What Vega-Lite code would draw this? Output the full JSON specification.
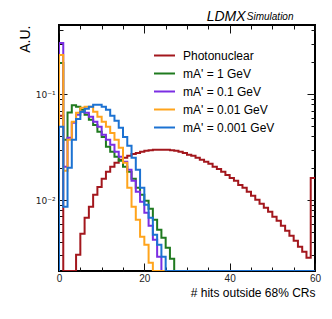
{
 "$schema": "https://vega.github.io/schema/vega-lite/v6.json",
 "width": 256,
 "height": 246,
 "autosize": {"type": "none"},
 "padding": {"left": 59, "top": 25, "right": 17, "bottom": 48},
 "background": "white",
 "config": {
  "font": "Liberation Sans",
  "view": {"stroke": "black", "strokeWidth": 2},
  "axis": {"domain": false, "grid": false, "tickColor": "#111", "tickWidth": 1, "labelColor": "#222", "labelFontSize": 10, "titleColor": "black", "titleFontWeight": "normal"}
 },
 "title": {"text": "LDMX", "anchor": "end", "fontStyle": "italic", "fontWeight": "normal", "fontSize": 14, "color": "black", "dx": -75, "offset": -12},
 "data": {"values": [
  {"sample":"Photonuclear","hits":0,"frac":0.0001,"k":0},
  {"sample":"Photonuclear","hits":0,"frac":0.0624,"k":1},
  {"sample":"Photonuclear","hits":1,"frac":0.0001,"k":2},
  {"sample":"Photonuclear","hits":4,"frac":0.00305,"k":3},
  {"sample":"Photonuclear","hits":5,"frac":0.00481,"k":4},
  {"sample":"Photonuclear","hits":6,"frac":0.00681,"k":5},
  {"sample":"Photonuclear","hits":7,"frac":0.00865,"k":6},
  {"sample":"Photonuclear","hits":8,"frac":0.0112,"k":7},
  {"sample":"Photonuclear","hits":9,"frac":0.0133,"k":8},
  {"sample":"Photonuclear","hits":10,"frac":0.0159,"k":9},
  {"sample":"Photonuclear","hits":11,"frac":0.0185,"k":10},
  {"sample":"Photonuclear","hits":12,"frac":0.0206,"k":11},
  {"sample":"Photonuclear","hits":13,"frac":0.0225,"k":12},
  {"sample":"Photonuclear","hits":14,"frac":0.0240,"k":13},
  {"sample":"Photonuclear","hits":15,"frac":0.0251,"k":14},
  {"sample":"Photonuclear","hits":16,"frac":0.0262,"k":15},
  {"sample":"Photonuclear","hits":17,"frac":0.0273,"k":16},
  {"sample":"Photonuclear","hits":18,"frac":0.0279,"k":17},
  {"sample":"Photonuclear","hits":19,"frac":0.0286,"k":18},
  {"sample":"Photonuclear","hits":20,"frac":0.0292,"k":19},
  {"sample":"Photonuclear","hits":21,"frac":0.0295,"k":20},
  {"sample":"Photonuclear","hits":22,"frac":0.0298,"k":21},
  {"sample":"Photonuclear","hits":23,"frac":0.0298,"k":22},
  {"sample":"Photonuclear","hits":24,"frac":0.0298,"k":23},
  {"sample":"Photonuclear","hits":25,"frac":0.0298,"k":24},
  {"sample":"Photonuclear","hits":26,"frac":0.0295,"k":25},
  {"sample":"Photonuclear","hits":27,"frac":0.0292,"k":26},
  {"sample":"Photonuclear","hits":28,"frac":0.0286,"k":27},
  {"sample":"Photonuclear","hits":29,"frac":0.0279,"k":28},
  {"sample":"Photonuclear","hits":30,"frac":0.0268,"k":29},
  {"sample":"Photonuclear","hits":31,"frac":0.0262,"k":30},
  {"sample":"Photonuclear","hits":32,"frac":0.0251,"k":31},
  {"sample":"Photonuclear","hits":33,"frac":0.0240,"k":32},
  {"sample":"Photonuclear","hits":34,"frac":0.0230,"k":33},
  {"sample":"Photonuclear","hits":35,"frac":0.0220,"k":34},
  {"sample":"Photonuclear","hits":36,"frac":0.0206,"k":35},
  {"sample":"Photonuclear","hits":37,"frac":0.0197,"k":36},
  {"sample":"Photonuclear","hits":38,"frac":0.0185,"k":37},
  {"sample":"Photonuclear","hits":39,"frac":0.0173,"k":38},
  {"sample":"Photonuclear","hits":40,"frac":0.0162,"k":39},
  {"sample":"Photonuclear","hits":41,"frac":0.0152,"k":40},
  {"sample":"Photonuclear","hits":42,"frac":0.0139,"k":41},
  {"sample":"Photonuclear","hits":43,"frac":0.0131,"k":42},
  {"sample":"Photonuclear","hits":44,"frac":0.0120,"k":43},
  {"sample":"Photonuclear","hits":45,"frac":0.0110,"k":44},
  {"sample":"Photonuclear","hits":46,"frac":0.0101,"k":45},
  {"sample":"Photonuclear","hits":47,"frac":0.00923,"k":46},
  {"sample":"Photonuclear","hits":48,"frac":0.00846,"k":47},
  {"sample":"Photonuclear","hits":49,"frac":0.00776,"k":48},
  {"sample":"Photonuclear","hits":50,"frac":0.00696,"k":49},
  {"sample":"Photonuclear","hits":51,"frac":0.00638,"k":50},
  {"sample":"Photonuclear","hits":52,"frac":0.00572,"k":51},
  {"sample":"Photonuclear","hits":53,"frac":0.00513,"k":52},
  {"sample":"Photonuclear","hits":54,"frac":0.00461,"k":53},
  {"sample":"Photonuclear","hits":55,"frac":0.00413,"k":54},
  {"sample":"Photonuclear","hits":56,"frac":0.00363,"k":55},
  {"sample":"Photonuclear","hits":57,"frac":0.00325,"k":56},
  {"sample":"Photonuclear","hits":58,"frac":0.00286,"k":57},
  {"sample":"Photonuclear","hits":59,"frac":0.0162,"k":58},
  {"sample":"Photonuclear","hits":60,"frac":0.0162,"k":59},

  {"sample":"mA' = 1 GeV","hits":0,"frac":0.0001,"k":0},
  {"sample":"mA' = 1 GeV","hits":0,"frac":0.197,"k":1},
  {"sample":"mA' = 1 GeV","hits":1,"frac":0.0371,"k":2},
  {"sample":"mA' = 1 GeV","hits":2,"frac":0.0670,"k":3},
  {"sample":"mA' = 1 GeV","hits":3,"frac":0.0787,"k":4},
  {"sample":"mA' = 1 GeV","hits":4,"frac":0.0759,"k":5},
  {"sample":"mA' = 1 GeV","hits":5,"frac":0.0711,"k":6},
  {"sample":"mA' = 1 GeV","hits":6,"frac":0.0638,"k":7},
  {"sample":"mA' = 1 GeV","hits":7,"frac":0.0572,"k":8},
  {"sample":"mA' = 1 GeV","hits":8,"frac":0.0513,"k":9},
  {"sample":"mA' = 1 GeV","hits":9,"frac":0.0441,"k":10},
  {"sample":"mA' = 1 GeV","hits":10,"frac":0.0395,"k":11},
  {"sample":"mA' = 1 GeV","hits":11,"frac":0.0319,"k":12},
  {"sample":"mA' = 1 GeV","hits":12,"frac":0.0286,"k":13},
  {"sample":"mA' = 1 GeV","hits":13,"frac":0.0256,"k":14},
  {"sample":"mA' = 1 GeV","hits":14,"frac":0.0235,"k":15},
  {"sample":"mA' = 1 GeV","hits":15,"frac":0.0206,"k":16},
  {"sample":"mA' = 1 GeV","hits":16,"frac":0.0185,"k":17},
  {"sample":"mA' = 1 GeV","hits":17,"frac":0.0159,"k":18},
  {"sample":"mA' = 1 GeV","hits":18,"frac":0.0131,"k":19},
  {"sample":"mA' = 1 GeV","hits":19,"frac":0.0112,"k":20},
  {"sample":"mA' = 1 GeV","hits":20,"frac":0.00985,"k":21},
  {"sample":"mA' = 1 GeV","hits":21,"frac":0.00828,"k":22},
  {"sample":"mA' = 1 GeV","hits":22,"frac":0.00652,"k":23},
  {"sample":"mA' = 1 GeV","hits":23,"frac":0.00525,"k":24},
  {"sample":"mA' = 1 GeV","hits":24,"frac":0.00441,"k":25},
  {"sample":"mA' = 1 GeV","hits":25,"frac":0.00355,"k":26},
  {"sample":"mA' = 1 GeV","hits":26,"frac":0.00279,"k":27},
  {"sample":"mA' = 1 GeV","hits":27,"frac":0.0001,"k":28},
  {"sample":"mA' = 1 GeV","hits":60,"frac":0.0001,"k":29},

  {"sample":"mA' = 0.1 GeV","hits":0,"frac":0.0001,"k":0},
  {"sample":"mA' = 0.1 GeV","hits":0,"frac":0.305,"k":1},
  {"sample":"mA' = 0.1 GeV","hits":1,"frac":0.0206,"k":2},
  {"sample":"mA' = 0.1 GeV","hits":2,"frac":0.0387,"k":3},
  {"sample":"mA' = 0.1 GeV","hits":3,"frac":0.0536,"k":4},
  {"sample":"mA' = 0.1 GeV","hits":4,"frac":0.0638,"k":5},
  {"sample":"mA' = 0.1 GeV","hits":5,"frac":0.0681,"k":6},
  {"sample":"mA' = 0.1 GeV","hits":6,"frac":0.0667,"k":7},
  {"sample":"mA' = 0.1 GeV","hits":7,"frac":0.0611,"k":8},
  {"sample":"mA' = 0.1 GeV","hits":8,"frac":0.0548,"k":9},
  {"sample":"mA' = 0.1 GeV","hits":9,"frac":0.0492,"k":10},
  {"sample":"mA' = 0.1 GeV","hits":10,"frac":0.0413,"k":11},
  {"sample":"mA' = 0.1 GeV","hits":11,"frac":0.0371,"k":12},
  {"sample":"mA' = 0.1 GeV","hits":12,"frac":0.0333,"k":13},
  {"sample":"mA' = 0.1 GeV","hits":13,"frac":0.0286,"k":14},
  {"sample":"mA' = 0.1 GeV","hits":14,"frac":0.0256,"k":15},
  {"sample":"mA' = 0.1 GeV","hits":15,"frac":0.0230,"k":16},
  {"sample":"mA' = 0.1 GeV","hits":16,"frac":0.0193,"k":17},
  {"sample":"mA' = 0.1 GeV","hits":17,"frac":0.0152,"k":18},
  {"sample":"mA' = 0.1 GeV","hits":18,"frac":0.0120,"k":19},
  {"sample":"mA' = 0.1 GeV","hits":19,"frac":0.00964,"k":20},
  {"sample":"mA' = 0.1 GeV","hits":20,"frac":0.00759,"k":21},
  {"sample":"mA' = 0.1 GeV","hits":21,"frac":0.00572,"k":22},
  {"sample":"mA' = 0.1 GeV","hits":22,"frac":0.00422,"k":23},
  {"sample":"mA' = 0.1 GeV","hits":23,"frac":0.00292,"k":24},
  {"sample":"mA' = 0.1 GeV","hits":24,"frac":0.0001,"k":25},
  {"sample":"mA' = 0.1 GeV","hits":60,"frac":0.0001,"k":26},

  {"sample":"mA' = 0.01 GeV","hits":0,"frac":0.0001,"k":0},
  {"sample":"mA' = 0.01 GeV","hits":0,"frac":0.235,"k":1},
  {"sample":"mA' = 0.01 GeV","hits":1,"frac":0.0189,"k":2},
  {"sample":"mA' = 0.01 GeV","hits":2,"frac":0.0371,"k":3},
  {"sample":"mA' = 0.01 GeV","hits":3,"frac":0.0548,"k":4},
  {"sample":"mA' = 0.01 GeV","hits":4,"frac":0.0667,"k":5},
  {"sample":"mA' = 0.01 GeV","hits":5,"frac":0.0743,"k":6},
  {"sample":"mA' = 0.01 GeV","hits":6,"frac":0.0759,"k":7},
  {"sample":"mA' = 0.01 GeV","hits":7,"frac":0.0759,"k":8},
  {"sample":"mA' = 0.01 GeV","hits":8,"frac":0.0681,"k":9},
  {"sample":"mA' = 0.01 GeV","hits":9,"frac":0.0611,"k":10},
  {"sample":"mA' = 0.01 GeV","hits":10,"frac":0.0548,"k":11},
  {"sample":"mA' = 0.01 GeV","hits":11,"frac":0.0492,"k":12},
  {"sample":"mA' = 0.01 GeV","hits":12,"frac":0.0431,"k":13},
  {"sample":"mA' = 0.01 GeV","hits":13,"frac":0.0371,"k":14},
  {"sample":"mA' = 0.01 GeV","hits":14,"frac":0.0312,"k":15},
  {"sample":"mA' = 0.01 GeV","hits":15,"frac":0.0225,"k":16},
  {"sample":"mA' = 0.01 GeV","hits":16,"frac":0.0131,"k":17},
  {"sample":"mA' = 0.01 GeV","hits":17,"frac":0.00865,"k":18},
  {"sample":"mA' = 0.01 GeV","hits":18,"frac":0.00652,"k":19},
  {"sample":"mA' = 0.01 GeV","hits":19,"frac":0.00451,"k":20},
  {"sample":"mA' = 0.01 GeV","hits":20,"frac":0.00379,"k":21},
  {"sample":"mA' = 0.01 GeV","hits":21,"frac":0.00256,"k":22},
  {"sample":"mA' = 0.01 GeV","hits":22,"frac":0.0001,"k":23},
  {"sample":"mA' = 0.01 GeV","hits":60,"frac":0.0001,"k":24},

  {"sample":"mA' = 0.001 GeV","hits":0,"frac":0.0001,"k":0},
  {"sample":"mA' = 0.001 GeV","hits":0,"frac":0.0492,"k":1},
  {"sample":"mA' = 0.001 GeV","hits":1,"frac":0.00865,"k":2},
  {"sample":"mA' = 0.001 GeV","hits":2,"frac":0.0202,"k":3},
  {"sample":"mA' = 0.001 GeV","hits":3,"frac":0.0371,"k":4},
  {"sample":"mA' = 0.001 GeV","hits":4,"frac":0.0584,"k":5},
  {"sample":"mA' = 0.001 GeV","hits":5,"frac":0.0681,"k":6},
  {"sample":"mA' = 0.001 GeV","hits":6,"frac":0.0727,"k":7},
  {"sample":"mA' = 0.001 GeV","hits":7,"frac":0.0759,"k":8},
  {"sample":"mA' = 0.001 GeV","hits":8,"frac":0.0793,"k":9},
  {"sample":"mA' = 0.001 GeV","hits":9,"frac":0.0793,"k":10},
  {"sample":"mA' = 0.001 GeV","hits":10,"frac":0.0759,"k":11},
  {"sample":"mA' = 0.001 GeV","hits":11,"frac":0.0711,"k":12},
  {"sample":"mA' = 0.001 GeV","hits":12,"frac":0.0624,"k":13},
  {"sample":"mA' = 0.001 GeV","hits":13,"frac":0.0560,"k":14},
  {"sample":"mA' = 0.001 GeV","hits":14,"frac":0.0481,"k":15},
  {"sample":"mA' = 0.001 GeV","hits":15,"frac":0.0395,"k":16},
  {"sample":"mA' = 0.001 GeV","hits":16,"frac":0.0325,"k":17},
  {"sample":"mA' = 0.001 GeV","hits":17,"frac":0.0251,"k":18},
  {"sample":"mA' = 0.001 GeV","hits":18,"frac":0.0193,"k":19},
  {"sample":"mA' = 0.001 GeV","hits":19,"frac":0.0131,"k":20},
  {"sample":"mA' = 0.001 GeV","hits":20,"frac":0.00903,"k":21},
  {"sample":"mA' = 0.001 GeV","hits":21,"frac":0.00681,"k":22},
  {"sample":"mA' = 0.001 GeV","hits":22,"frac":0.00471,"k":23},
  {"sample":"mA' = 0.001 GeV","hits":23,"frac":0.00379,"k":24},
  {"sample":"mA' = 0.001 GeV","hits":24,"frac":0.00292,"k":25},
  {"sample":"mA' = 0.001 GeV","hits":25,"frac":0.0001,"k":26},
  {"sample":"mA' = 0.001 GeV","hits":60,"frac":0.0001,"k":27}
 ]},
 "layer": [
  {
   "mark": {"type": "line", "interpolate": "step-after", "strokeWidth": 2, "clip": true},
   "encoding": {
    "x": {"field": "hits", "type": "quantitative",
     "scale": {"domain": [0, 60], "nice": false, "zero": false},
     "axis": {"orient": "bottom", "title": "# hits outside 68% CRs", "titleAnchor": "end", "titleFontSize": 12, "titlePadding": 4,
      "values": [0,5,10,15,20,25,30,35,40,45,50,55,60],
      "labelExpr": "datum.value % 20 === 0 ? datum.label : ''",
      "tickSize": {"condition": {"test": "datum.value % 20 === 0", "value": -8}, "value": -4},
      "labelPadding": 10, "labelFlush": false}},
    "y": {"field": "frac", "type": "quantitative",
     "scale": {"type": "log", "domain": [0.00214, 0.45], "nice": false, "clamp": true},
     "axis": {"orient": "left", "title": "A.U.", "titleAnchor": "end", "titleFontSize": 14, "titlePadding": 3,
      "values": [0.003,0.004,0.005,0.006,0.007,0.008,0.009,0.01,0.02,0.03,0.04,0.05,0.06,0.07,0.08,0.09,0.1,0.2,0.3,0.4],
      "labelExpr": "datum.value == 0.1 ? '10⁻¹' : (datum.value == 0.01 ? '10⁻²' : '')",
      "tickSize": {"condition": {"test": "datum.value == 0.1 || datum.value == 0.01", "value": -8}, "value": -4},
      "labelAlign": "right", "labelFont": "DejaVu Sans", "labelFontSize": 9, "labelPadding": 12}},
    "color": {"field": "sample", "type": "nominal",
     "scale": {"domain": ["Photonuclear", "mA' = 1 GeV", "mA' = 0.1 GeV", "mA' = 0.01 GeV", "mA' = 0.001 GeV"],
      "range": ["#a3171d", "#1f7a1f", "#7b2ee3", "#ffa41c", "#1c72d2"]},
     "legend": {"title": null, "orient": "none", "legendX": 94, "legendY": 19, "labelFontSize": 12, "labelColor": "black",
      "symbolType": "stroke", "symbolStrokeWidth": 2, "symbolSize": 441, "labelOffset": 7, "rowPadding": 0, "padding": 0}},
    "order": {"field": "k", "type": "quantitative"}
   }
  },
  {
   "mark": {"type": "line", "strokeOpacity": 0},
   "encoding": {
    "x": {"field": "hits", "type": "quantitative",
     "axis": {"orient": "top", "title": "Simulation", "titleX": 234, "titleAlign": "right", "titleFontSize": 10, "titleFontStyle": "italic", "titlePadding": 3,
      "values": [0,5,10,15,20,25,30,35,40,45,50,55,60], "labels": false,
      "tickSize": {"condition": {"test": "datum.value % 20 === 0", "value": -8}, "value": -4}}},
    "y": {"field": "frac", "type": "quantitative",
     "axis": {"orient": "right", "title": null, "labels": false,
      "values": [0.003,0.004,0.005,0.006,0.007,0.008,0.009,0.01,0.02,0.03,0.04,0.05,0.06,0.07,0.08,0.09,0.1,0.2,0.3,0.4],
      "tickSize": {"condition": {"test": "datum.value == 0.1 || datum.value == 0.01", "value": -8}, "value": -4}}}
   }
  }
 ],
 "resolve": {"axis": {"x": "independent", "y": "independent"}}
}
